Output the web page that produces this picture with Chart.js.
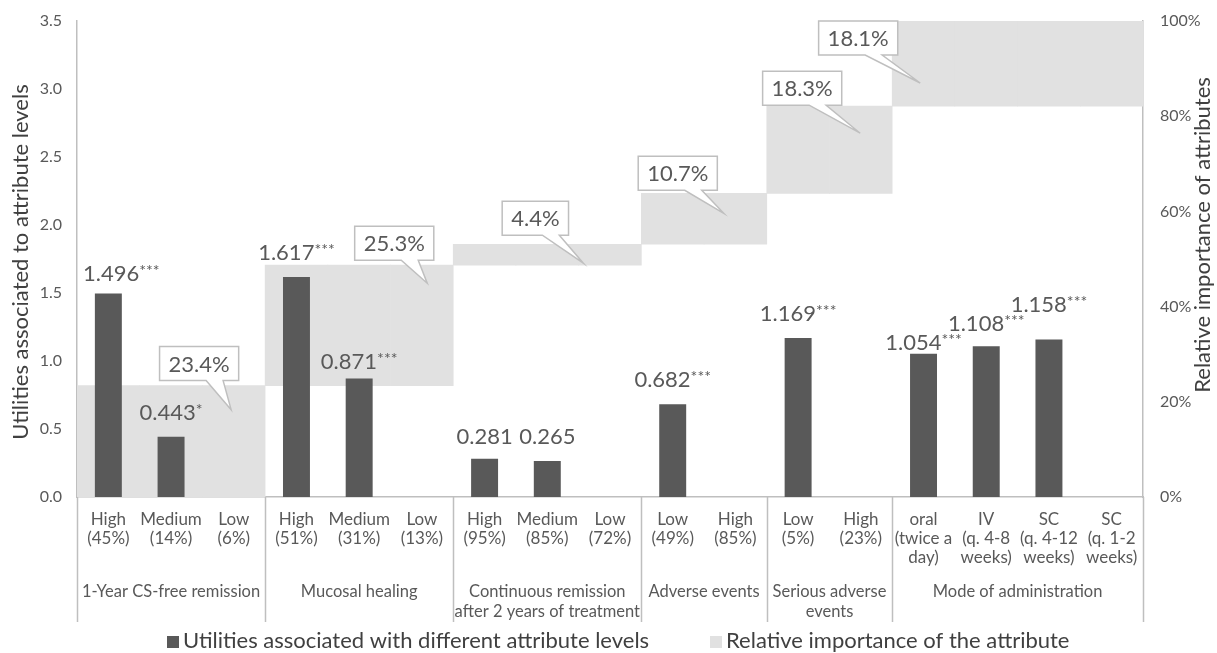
<!DOCTYPE html>
<html>
<head>
<meta charset="utf-8">
<script src="https://cdn.jsdelivr.net/npm/chart.js@4.4.0/dist/chart.umd.min.js"></script>
<style>
  html, body { margin: 0; padding: 0; background: #ffffff; }
  canvas { display: block; }
</style>
</head>
<body>
<canvas id="chart" width="1217" height="653"></canvas>
<script>
// Attribute levels (x categories), utilities and significance markers
const levelLabels = [
  ['High', '(45%)'], ['Medium', '(14%)'], ['Low', '(6%)'],
  ['High', '(51%)'], ['Medium', '(31%)'], ['Low', '(13%)'],
  ['High', '(95%)'], ['Medium', '(85%)'], ['Low', '(72%)'],
  ['Low', '(49%)'], ['High', '(85%)'],
  ['Low', '(5%)'], ['High', '(23%)'],
  ['oral', '(twice a', 'day)'], ['IV', '(q. 4-8', 'weeks)'], ['SC', '(q. 4-12', 'weeks)'], ['SC', '(q. 1-2', 'weeks)']
];
const utilities = [1.496, 0.443, 0, 1.617, 0.871, 0, 0.281, 0.265, 0, 0.682, 0, 1.169, 0, 1.054, 1.108, 1.158, 0];
const significance = ['***', '*', '', '***', '***', '', '', '', '', '***', '', '***', '', '***', '***', '***', ''];

// Attributes and their relative importance (%)
const attributes = [
  ['1-Year CS-free remission'],
  ['Mucosal healing'],
  ['Continuous remission', 'after 2 years of treatment'],
  ['Adverse events'],
  ['Serious adverse', 'events'],
  ['Mode of administration']
];
const levelsPerAttribute = [3, 3, 3, 2, 2, 4];
const importance = [23.4, 25.3, 4.4, 10.7, 18.3, 18.1];

// Axis tick values
const utilityTicks = [0, 0.5, 1.0, 1.5, 2.0, 2.5, 3.0, 3.5];
const importanceTicks = [0, 20, 40, 60, 80, 100];

const seriesNames = ['Utilities associated with different attribute levels', 'Relative importance of the attribute'];
const axisTitles = ['Utilities associated to attribute levels', 'Relative importance of attributes'];

// Each attribute's importance stacked on the previous ones, repeated over its levels
const importanceRanges = [];
const importanceTops = [];
let cumulative = 0;
levelsPerAttribute.forEach((n, g) => {
  const end = cumulative + importance[g];
  for (let k = 0; k < n; k++) importanceRanges.push([cumulative, end]);
  importanceTops.push(end);
  cumulative = end;
});

const FONT = 'Lato';
const TEXT = '#595959';
const DARK_TEXT = '#404040';
const LINE = '#bfbfbf';
const BAR_DARK = '#595959';
const BAR_LIGHT = '#e1e1e1';

// Value label tweaks: [dx, gap above bar top]
const labelPlacement = { 0: [13, 13], 4: [0, 10], 6: [0, 15], 13: [0, 4], 14: [0, 15], 15: [0, 28] };
const DEFAULT_LABEL_GAP = 17;

// Callout placement per attribute: tip relative to block corner, box centre relative to tip
const calloutPlacement = [
  { edge: 'right', tip: [-34, 24], box: [-32, -46] },
  { edge: 'right', tip: [-26, 18], box: [-33, -40] },
  { edge: 'right', tip: [-58, 19], box: [-48, -45] },
  { edge: 'right', tip: [-43, 20], box: [-46, -40] },
  { edge: 'right', tip: [-32, 27], box: [-58, -45] },
  { edge: 'left',  tip: [28, 62],  box: [-62, -45] }
];

function attributeBounds(xs) {
  const bounds = [];
  let idx = 0;
  levelsPerAttribute.forEach((n) => {
    const first = idx, last = idx + n - 1;
    const left = first === 0 ? xs.left : (xs.getPixelForValue(first - 1) + xs.getPixelForValue(first)) / 2;
    const right = last === levelLabels.length - 1 ? xs.right : (xs.getPixelForValue(last) + xs.getPixelForValue(last + 1)) / 2;
    bounds.push([left, right]);
    idx += n;
  });
  return bounds;
}

const decorations = {
  id: 'decorations',
  afterDatasetsDraw(chart) {
    const ctx = chart.ctx;
    const xs = chart.scales.x, y2 = chart.scales.y2;
    const meta = chart.getDatasetMeta(0);

    // Utility value labels with significance stars
    ctx.save();
    ctx.fillStyle = TEXT;
    ctx.textBaseline = 'alphabetic';
    ctx.textAlign = 'left';
    utilities.forEach((v, i) => {
      if (!v) return;
      const el = meta.data[i];
      const [dx, gap] = labelPlacement[i] || [0, DEFAULT_LABEL_GAP];
      const num = v.toFixed(3);
      ctx.font = `22px ${FONT}`;
      const wNum = ctx.measureText(num).width;
      ctx.font = `16px ${FONT}`;
      const wStar = significance[i] ? ctx.measureText(significance[i]).width : 0;
      const x0 = el.x + dx - (wNum + wStar) / 2;
      const yb = el.y - gap;
      ctx.font = `22px ${FONT}`;
      ctx.fillText(num, x0, yb);
      if (significance[i]) {
        ctx.font = `16px ${FONT}`;
        ctx.fillText(significance[i], x0 + wNum, yb - 5);
      }
    });
    ctx.restore();

    // Importance callouts
    const bounds = attributeBounds(xs);
    ctx.save();
    ctx.font = `22px ${FONT}`;
    importance.forEach((imp, g) => {
      const p = calloutPlacement[g];
      const top = y2.getPixelForValue(Math.min(importanceTops[g], 100));
      const edgeX = p.edge === 'right' ? bounds[g][1] : bounds[g][0];
      const tipX = edgeX + p.tip[0], tipY = top + p.tip[1];
      const cx = tipX + p.box[0], cy = tipY + p.box[1];
      const text = imp.toFixed(1) + '%';
      const w = ctx.measureText(text).width + 18, h = 34;
      const l = cx - w / 2, r = cx + w / 2, t = cy - h / 2, b = cy + h / 2;
      ctx.beginPath();
      ctx.moveTo(l, t);
      ctx.lineTo(r, t);
      ctx.lineTo(r, b);
      ctx.lineTo(cx + 24, b);
      ctx.lineTo(tipX, tipY);
      ctx.lineTo(cx + 7, b);
      ctx.lineTo(l, b);
      ctx.closePath();
      ctx.fillStyle = '#ffffff';
      ctx.fill();
      ctx.strokeStyle = LINE;
      ctx.lineWidth = 1.5;
      ctx.stroke();
      ctx.fillStyle = TEXT;
      ctx.textAlign = 'center';
      ctx.textBaseline = 'middle';
      ctx.fillText(text, cx, cy + 1);
    });
    ctx.restore();
  },
  afterDraw(chart) {
    const ctx = chart.ctx;
    const xs = chart.scales.x;
    const area = chart.chartArea;
    const bounds = attributeBounds(xs);

    // Attribute separators and names under the level labels
    ctx.save();
    ctx.strokeStyle = LINE;
    ctx.lineWidth = 1.5;
    const edges = [bounds[0][0]].concat(bounds.map(b => b[1]));
    edges.forEach(x => {
      ctx.beginPath();
      ctx.moveTo(Math.round(x) + 0.5, area.bottom);
      ctx.lineTo(Math.round(x) + 0.5, area.bottom + 125);
      ctx.stroke();
    });
    ctx.fillStyle = TEXT;
    ctx.font = `16.5px ${FONT}`;
    ctx.textAlign = 'center';
    ctx.textBaseline = 'middle';
    attributes.forEach((lines, g) => {
      const cx = (bounds[g][0] + bounds[g][1]) / 2;
      lines.forEach((ln, k) => ctx.fillText(ln, cx, area.bottom + 95 + k * 20));
    });
    ctx.restore();

    // Axis titles
    const titles = [[axisTitles[0], 21, 262], [axisTitles[1], 1203, 235]];
    titles.forEach(([txt, x, y]) => {
      ctx.save();
      ctx.fillStyle = DARK_TEXT;
      ctx.font = `22px ${FONT}`;
      ctx.textAlign = 'center';
      ctx.textBaseline = 'middle';
      ctx.translate(x, y);
      ctx.rotate(-Math.PI / 2);
      ctx.fillText(txt, 0, 0);
      ctx.restore();
    });

    // Legend
    ctx.save();
    ctx.font = `22px ${FONT}`;
    ctx.textBaseline = 'middle';
    ctx.textAlign = 'left';
    const legendY = 641;
    const items = [[167, BAR_DARK], [710, BAR_LIGHT]];
    items.forEach(([x, color], k) => {
      ctx.fillStyle = color;
      ctx.fillRect(x, legendY - 5, 12, 12);
      ctx.fillStyle = DARK_TEXT;
      ctx.fillText(seriesNames[k], x + 16, legendY);
    });
    ctx.restore();
  }
};

// Vertical axes: no extra room for half tick labels, the layout padding covers it
function noLabelOverflow(s) {
  s.paddingTop = 0;
  s.paddingBottom = 0;
}

new Chart(document.getElementById('chart'), {
  type: 'bar',
  data: {
    labels: levelLabels,
    datasets: [
      {
        label: seriesNames[0],
        data: utilities,
        backgroundColor: BAR_DARK,
        yAxisID: 'y',
        barPercentage: 0.43,
        categoryPercentage: 1,
        grouped: false,
        order: 1
      },
      {
        label: seriesNames[1],
        data: importanceRanges,
        backgroundColor: BAR_LIGHT,
        yAxisID: 'y2',
        barPercentage: 1,
        categoryPercentage: 1,
        grouped: false,
        order: 2
      }
    ]
  },
  options: {
    responsive: false,
    devicePixelRatio: 1,
    animation: false,
    layout: { padding: { top: 21, left: 0, right: 0, bottom: 0 } },
    plugins: { legend: { display: false }, tooltip: { enabled: false } },
    scales: {
      x: {
        type: 'category',
        offset: true,
        grid: { display: false, drawTicks: false },
        border: { display: true, color: LINE, width: 1.5 },
        ticks: {
          autoSkip: false, maxRotation: 0, minRotation: 0, padding: 13,
          color: TEXT, font: { family: FONT, size: 17, lineHeight: 1.12 }
        },
        afterFit(s) { s.height = 156; s.paddingLeft = 0; s.paddingRight = 0; }
      },
      y: {
        position: 'left',
        min: 0, max: 3.5,
        grid: { display: false, drawTicks: false },
        border: { display: true, color: LINE, width: 1.5 },
        ticks: {
          padding: 15, color: TEXT, font: { family: FONT, size: 16 },
          callback: v => Number(v).toFixed(1)
        },
        afterBuildTicks(s) { s.ticks = utilityTicks.map(v => ({ value: v })); },
        afterFit(s) { s.width = 77; noLabelOverflow(s); }
      },
      y2: {
        position: 'right',
        min: 0, max: 100,
        grid: { display: false, drawTicks: false },
        border: { display: true, color: LINE, width: 1.5 },
        ticks: {
          padding: 17, color: TEXT, font: { family: FONT, size: 16 },
          callback: v => v + '%'
        },
        afterBuildTicks(s) { s.ticks = importanceTicks.map(v => ({ value: v })); },
        afterFit(s) { s.width = 74; noLabelOverflow(s); }
      }
    }
  },
  plugins: [decorations]
});
</script>
</body>
</html>
